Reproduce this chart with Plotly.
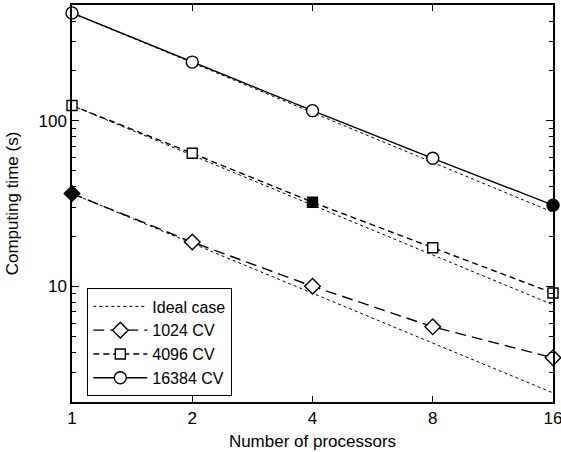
import plotly.graph_objects as go
import math

processors = [1, 2, 4, 8, 16]
time_1024 = [36.3, 18.5, 10.0, 5.69, 3.70]
time_4096 = [123.6, 63.6, 32.2, 17.1, 9.1]
time_16384 = [448, 226, 115, 59.3, 30.9]

ideal_x = [1, 16, None, 1, 16, None, 1, 16]
ideal_y = [448, 28.0, None, 123.6, 7.73, None, 36.3, 2.27]

fill_1024 = ["black", "white", "white", "white", "white"]
fill_4096 = ["white", "white", "black", "white", "white"]
fill_16384 = ["white", "white", "white", "white", "black"]

y_major = [10, 100]
y_minor = [2, 3, 4, 5, 6, 7, 8, 9, 20, 30, 40, 50, 60, 70, 80, 90, 200, 300, 400, 500]

FONT = "Liberation Sans, Arial, Helvetica, sans-serif"
LW = 1.4

series = [
    ("1024 CV", time_1024, fill_1024, "diamond", 12, "11px,6px"),
    ("4096 CV", time_4096, fill_4096, "square", 10, "6px,4px"),
    ("16384 CV", time_16384, fill_16384, "circle", 12, "solid"),
]

fig = go.Figure()
fig.add_trace(go.Scatter(
    x=ideal_x, y=ideal_y, mode="lines", name="Ideal case",
    line=dict(color="black", width=1, dash="dot"), cliponaxis=False,
))
for name, vals, fills, sym, size, dash in series:
    fig.add_trace(go.Scatter(
        x=processors, y=vals, mode="lines+markers", name=name, showlegend=False,
        line=dict(color="black", width=LW, dash=dash),
        marker=dict(symbol=sym, size=size, color=fills, line=dict(color="black", width=LW)),
        cliponaxis=False,
    ))
    # legend-only entry with open marker
    fig.add_trace(go.Scatter(
        x=[None], y=[None], mode="lines+markers", name=name,
        line=dict(color="black", width=LW, dash=dash),
        marker=dict(symbol=sym, size=size, color="white", line=dict(color="black", width=LW)),
    ))

fig.update_layout(
    width=561, height=452,
    margin=dict(l=72, r=8, t=5, b=50, autoexpand=False),
    paper_bgcolor="white", plot_bgcolor="white",
    font=dict(family=FONT, size=17, color="black"),
    showlegend=True,
    legend=dict(
        x=0.031, y=0.287, xanchor="left", yanchor="top",
        bgcolor="white", bordercolor="black", borderwidth=1.4,
        font=dict(size=16), itemwidth=54, tracegroupgap=0,
    ),
    xaxis=dict(
        type="log", range=[0, math.log10(16) + 1e-5], automargin=False,
        tickvals=processors, ticktext=[str(p) for p in processors],
        ticks="inside", ticklen=6, tickwidth=1.2, tickcolor="black",
        ticklabeloverflow="allow",
        showline=True, linecolor="black", linewidth=1.5, mirror="ticks",
        showgrid=False, zeroline=False,
        title=dict(text="Number of processors", font=dict(size=17), standoff=8),
    ),
    yaxis=dict(
        type="log", range=[math.log10(2), math.log10(500)], automargin=False,
        tickvals=y_major, ticktext=[str(v) for v in y_major],
        ticks="inside", ticklen=7, tickwidth=1.2, tickcolor="black",
        minor=dict(tickvals=y_minor, ticks="inside", ticklen=4, tickwidth=1, tickcolor="black", showgrid=False),
        showline=True, linecolor="black", linewidth=1.5, mirror="ticks",
        showgrid=False, zeroline=False,
        title=dict(text="Computing time (s)", font=dict(size=17), standoff=16),
    ),
)

fig.write_html("out.html", config={"displayModeBar": False},
               post_script="document.body.style.margin='0px';")
